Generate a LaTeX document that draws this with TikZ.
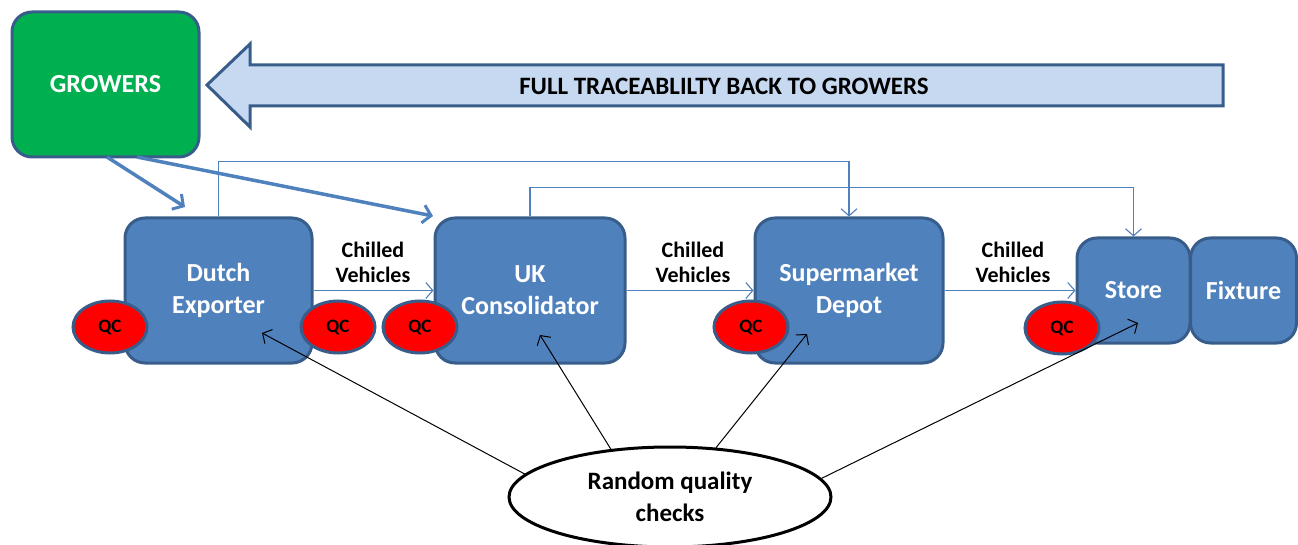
\documentclass[tikz,border=0pt]{standalone}
\usepackage{fontspec}
\setmainfont{Carlito}
\usetikzlibrary{arrows.meta,shapes.geometric}
\definecolor{boxblue}{HTML}{4F81BD}
\definecolor{edgeblue}{HTML}{385D8A}
\definecolor{growgreen}{HTML}{00B050}
\definecolor{lightarrow}{HTML}{C6D9F1}
\tikzset{
  stage/.style={draw=edgeblue, fill=boxblue, line width=3pt, rounded corners=20pt,
    text=white, font=\fontsize{26}{32}\selectfont\bfseries, align=center, inner sep=0pt},
  qc/.style={ellipse, draw=edgeblue, fill=red, line width=3pt, minimum width=74pt,
    minimum height=52pt, inner sep=0pt, font=\fontsize{19}{20}\selectfont\bfseries},
  chilled/.style={font=\fontsize{22}{25}\selectfont\bfseries, align=center},
  thinflow/.style={draw=boxblue, line width=1.1pt, -{Straight Barb[length=7pt,width=16pt,line width=1.1pt]}},
  thickflow/.style={draw=boxblue, line width=3.5pt, -{Straight Barb[length=8pt,width=18pt,line width=3pt]}},
  check/.style={draw=black, line width=1pt, -{Straight Barb[length=7pt,width=16pt,line width=1pt]}}
}
\begin{document}
\begin{tikzpicture}[x=1pt,y=-1pt]
\useasboundingbox (0,0) rectangle (1298,545);
% traceability arrow
\draw[draw=edgeblue, fill=lightarrow, line width=3pt, line join=miter]
  (207,85) -- (250,44) -- (250,65) -- (1223,65) -- (1223,106) -- (250,106) -- (250,127) -- cycle;
\node[font=\fontsize{25}{28}\selectfont\bfseries] (trace) at (724,86) {FULL TRACEABLILTY BACK TO GROWERS};
% growers
\node[stage, fill=growgreen, minimum width=187pt, minimum height=145pt] (growers) at (105.5,84.5) {GROWERS};
% stages
\node[stage, minimum width=187pt, minimum height=145pt] (dutch) at (218.5,290.5) {Dutch\\Exporter};
\node[stage, minimum width=190pt, minimum height=145pt] (uk) at (530,290.5) {UK\\Consolidator};
\node[stage, minimum width=188pt, minimum height=145pt] (depot) at (849,290.5) {Supermarket\\Depot};
\node[stage, minimum width=113pt, minimum height=105pt] (store) at (1133.5,290.5) {Store};
\node[stage, minimum width=106pt, minimum height=105pt] (fixture) at (1243.5,290.5) {Fixture};
% traceability lines
\draw[thinflow] (dutch.north) -- ++(0,-55) -| (depot.north);
\draw[thinflow] (uk.north) -- ++(0,-29) -| (store.north);
% chilled vehicles
\draw[thinflow] (dutch.east) -- (uk.west);
\draw[thinflow] (uk.east) -- (depot.west);
\draw[thinflow] (depot.east) -- (store.west);
\node[chilled] (cv1) at (373,262) {Chilled\\Vehicles};
\node[chilled] (cv2) at (693,262) {Chilled\\Vehicles};
\node[chilled] (cv3) at (1013,262) {Chilled\\Vehicles};
% growers arrows
\coordinate (g1) at (107,157);
\coordinate (g2) at (137,157);
\coordinate (d1) at (185,207);
\coordinate (u1) at (433,216);
\draw[thickflow] (g1) -- (d1);
\draw[thickflow] (g2) -- (u1);
% QC
\node[qc] (qc1) at (110,327) {QC};
\node[qc] (qc2) at (338,327) {QC};
\node[qc] (qc3) at (420,327) {QC};
\node[qc] (qc4) at (751,327) {QC};
\node[qc] (qc5) at (1062,328) {QC};
% random quality checks
\node[ellipse, draw=black, line width=3pt, fill=white, minimum width=322pt, minimum height=100pt,
  font=\fontsize{25}{32}\selectfont\bfseries, align=center] (rq) at (670,497) {Random quality\\checks};
\coordinate (t1) at (262,333);
\coordinate (t2) at (540,335);
\coordinate (t3) at (807,334);
\coordinate (t4) at (1138,323);
\draw[check] (rq.171) -- (t1);
\draw[check] (rq.141) -- (t2);
\draw[check] (rq.47) -- (t3);
\draw[check] (rq.7) -- (t4);
\end{tikzpicture}
\end{document}
